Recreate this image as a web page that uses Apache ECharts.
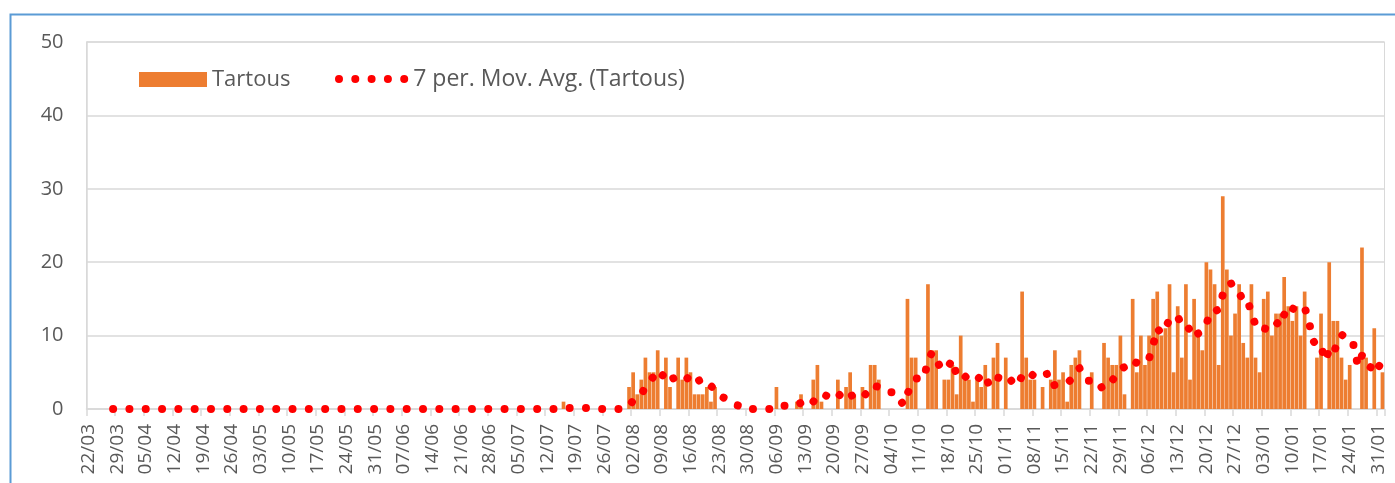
<!DOCTYPE html>
<html><head><meta charset="utf-8">
<script src="https://cdn.jsdelivr.net/npm/echarts@6/dist/echarts.min.js"></script>
<style>html,body{margin:0;padding:0;background:#fff}#c{width:1395px;height:483px}</style>
</head><body><div id="c"></div>
<script>
// month code, first day, last day
const months = [['03',22,31],['04',1,30],['05',1,31],['06',1,30],['07',1,31],['08',1,31],['09',1,30],['10',1,31],['11',1,30],['12',1,31],['01',1,31],['02',1,1]];
const casesMar = [0,0,0,0,0,0,0,0,0,0];
const casesApr = [0,0,0,0,0,0,0,0,0,0,0,0,0,0,0,0,0,0,0,0,0,0,0,0,0,0,0,0,0,0];
const casesMay = [0,0,0,0,0,0,0,0,0,0,0,0,0,0,0,0,0,0,0,0,0,0,0,0,0,0,0,0,0,0,0];
const casesJun = [0,0,0,0,0,0,0,0,0,0,0,0,0,0,0,0,0,0,0,0,0,0,0,0,0,0,0,0,0,0];
const casesJul = [0,0,0,0,0,0,0,0,0,0,0,0,0,0,0,1,0,0,0,0,0,0,0,0,0,0,0,0,0,0,0];
const casesAug = [3,5,2,4,7,5,5,8,0,7,3,0,7,4,7,5,2,2,2,3,1,3,0,0,0,0,0,0,0,0,0];
const casesSep = [0,0,0,0,0,3,0,0,0,0,1,2,0,0,4,6,1,0,0,0,4,0,3,5,2,0,3,0,6,6];
const casesOct = [4,0,0,0,0,0,0,15,7,7,0,0,17,8,8,0,4,4,6,2,10,4,4,1,4,3,6,0,7,9,0];
const casesNov = [7,0,0,0,16,7,4,4,0,3,0,4,8,4,5,1,6,7,8,0,0,5,0,0,9,7,6,6,10,2];
const casesDec = [0,15,5,10,6,10,15,16,10,11,17,5,14,7,17,4,15,10,8,20,19,17,6,29,19,10,13,17,9,7,17];
const casesJan = [7,5,15,16,10,13,13,18,14,12,14,10,16,0,0,7,13,0,20,12,12,7,4,6,0,0,22,7,0,11,0];
const casesFeb = [5];
const yTicks = [0,10,20,30,40,50];
const seriesName = 'Tartous';
const trendName = '7 per. Mov. Avg. (Tartous)';

const categories = [];
months.forEach(m => { for (let d = m[1]; d <= m[2]; d++) categories.push((d < 10 ? '0' : '') + d + '/' + m[0]); });
const cases = [].concat(casesMar,casesApr,casesMay,casesJun,casesJul,casesAug,casesSep,casesOct,casesNov,casesDec,casesJan,casesFeb);
// Excel "7 per. Mov. Avg." trendline: average of the current and 6 previous points
const movAvg = cases.map((v, i) => {
  if (i < 6) return null;
  let s = 0; for (let k = i - 6; k <= i; k++) s += cases[k];
  return +(s / 7).toFixed(4);
});

const FONT = '"Open Sans", "Noto Sans", sans-serif';
const chart = echarts.init(document.getElementById('c'), null, {renderer: 'canvas'});
const dotsIcon = 'path://M0,4a4,4 0 1,0 8,0a4,4 0 1,0 -8,0z M16.3,4a4,4 0 1,0 8,0a4,4 0 1,0 -8,0z M32.6,4a4,4 0 1,0 8,0a4,4 0 1,0 -8,0z M48.9,4a4,4 0 1,0 8,0a4,4 0 1,0 -8,0z M65.2,4a4,4 0 1,0 8,0a4,4 0 1,0 -8,0z';
chart.setOption({
  animation: false,
  backgroundColor: '#ffffff',
  graphic: [{
    type: 'rect', left: 8, top: 12, silent: true,
    shape: {x: 0, y: 0, width: 1420, height: 520},
    style: {fill: 'none', stroke: '#5b9bd5', lineWidth: 2}
  }],
  grid: {left: 86.5, right: 10.5, top: 42, bottom: 74, show: true, borderColor: '#d9d9d9', borderWidth: 1, containLabel: false},
  legend: [{
    data: [{name: seriesName, icon: 'rect'}],
    left: 139, top: 68.5, padding: 0, itemWidth: 68, itemHeight: 15,
    textStyle: {fontFamily: FONT, fontSize: 22, color: '#595959'}
  }, {
    data: [{name: trendName, icon: dotsIcon}],
    left: 335, top: 67.5, padding: 0, itemWidth: 73.2, itemHeight: 8,
    textStyle: {fontFamily: FONT, fontSize: 23, color: '#595959'}
  }],
  xAxis: {
    type: 'category', data: categories, boundaryGap: true,
    axisLine: {lineStyle: {color: '#d9d9d9', width: 1.5}},
    axisTick: {show: true, interval: 6, length: 7, lineStyle: {color: '#d9d9d9', width: 1.5}},
    axisLabel: {interval: 6, rotate: 90, margin: 15, fontFamily: FONT, fontSize: 19, color: '#595959'},
    splitLine: {show: false}
  },
  yAxis: {
    type: 'value', min: 0, max: 50, interval: 10,
    axisLine: {show: true, lineStyle: {color: '#d9d9d9', width: 1.5}},
    axisTick: {show: false},
    axisLabel: {margin: 23, fontFamily: FONT, fontSize: 20, color: '#595959',
      formatter: v => yTicks.indexOf(v) >= 0 ? String(v) : ''},
    splitLine: {lineStyle: {color: '#d9d9d9', width: 1.5}}
  },
  series: [{
    name: seriesName, type: 'bar', data: cases, barCategoryGap: '10%',
    itemStyle: {color: '#ed7d31'}
  }, {
    name: trendName, type: 'line', data: movAvg, symbol: 'none', clip: false, z: 5,
    itemStyle: {color: '#ff0000'},
    lineStyle: {color: '#ff0000', width: 8, type: [0.01, 16.3], cap: 'round', join: 'round'}
  }]
});
</script></body></html>
